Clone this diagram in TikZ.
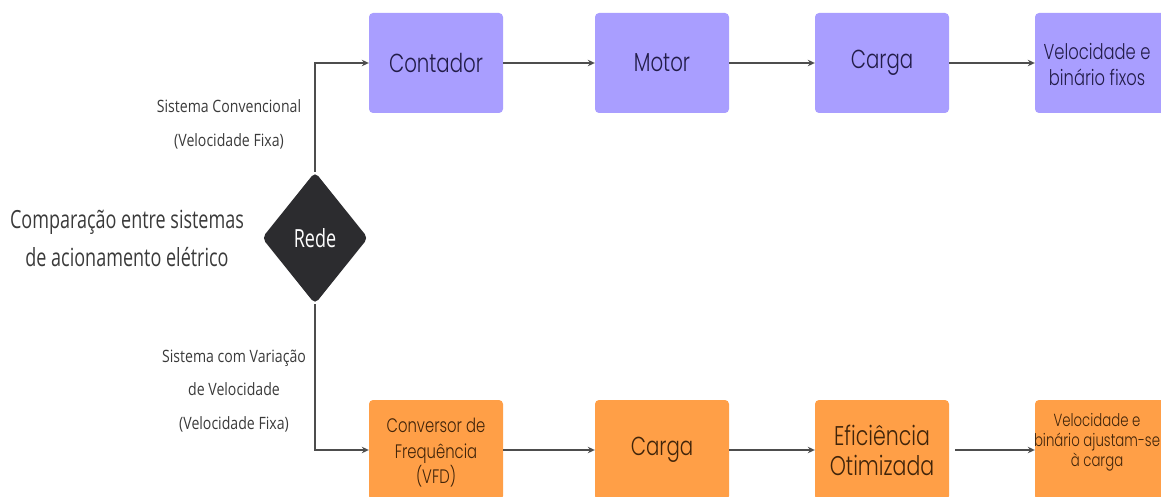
\documentclass[tikz,border=0pt]{standalone}
\usepackage{fontspec}
\setmainfont{Open Sans}[FakeStretch=0.83]
\newfontfamily\titlefont{Open Sans}[FakeStretch=0.72]
\newfontfamily\boxfont{Poppins Light}[FakeStretch=0.76]
\usetikzlibrary{arrows.meta,shapes.geometric}
\definecolor{purplebox}{HTML}{A99EFF}
\definecolor{orangebox}{HTML}{FF9F47}
\definecolor{purpletext}{HTML}{221C48}
\definecolor{orangetext}{HTML}{40240A}
\definecolor{darkdia}{HTML}{2C2C2F}
\definecolor{linegray}{HTML}{4D4D4D}
\definecolor{labeltext}{HTML}{3A3A3A}
\tikzset{
  pbox/.style={draw=none, fill=purplebox, rounded corners=4pt, minimum width=134pt, minimum height=100pt, inner sep=0pt, text=purpletext, align=center},
  obox/.style={draw=none, fill=orangebox, rounded corners=4pt, minimum width=134pt, minimum height=100pt, inner sep=0pt, text=orangetext, align=center},
  conn/.style={draw=linegray, line width=1.3pt, -{Stealth[length=7pt,width=6.5pt]}},
  lbl/.style={text=labeltext, align=center, inner sep=0pt},
  boxtext/.style={align=center, inner sep=0pt},
}
\begin{document}
\begin{tikzpicture}[x=1pt,y=-1pt]
\useasboundingbox (0,0) rectangle (1161,497);
% top row
\node[pbox, font=\boxfont\fontsize{26}{30}\selectfont] (contador) at (436,63) {Contador};
\node[pbox, font=\boxfont\fontsize{26}{30}\selectfont] (motor) at (662,63) {Motor};
\node[pbox, font=\boxfont\fontsize{26}{30}\selectfont] (carga1) at (882,63) {Carga};
\node[pbox, minimum width=130pt] (vel1) at (1100,63) {};
\node[boxtext, text=purpletext, font=\boxfont\fontsize{21.5}{26}\selectfont] (vel1t) at (1097,65) {Velocidade e\\binário fixos};
% bottom row
\node[obox] (conv) at (436,450) {};
\node[boxtext, text=orangetext, font=\boxfont\fontsize{19.5}{25.5}\selectfont] (convt) at (436,453) {Conversor de\\Frequência\\(VFD)};
\node[obox, font=\boxfont\fontsize{26}{30}\selectfont] (carga2) at (662,450) {Carga};
\node[obox, font=\boxfont\fontsize{27}{30}\selectfont] (efic) at (882,450) {Eficiência\\Otimizada};
\node[obox, minimum width=130pt] (vel2) at (1100,450) {};
\node[boxtext, text=orangetext, font=\boxfont\fontsize{17.5}{20}\selectfont] (vel2t) at (1097,442) {Velocidade e\\binário ajustam-se\\à carga};
% diamond
\node[diamond, fill=darkdia, minimum width=106pt, minimum height=132pt, inner sep=0pt, rounded corners=5pt, text=white, font=\titlefont\fontsize{25}{28}\selectfont] (rede) at (315,238) {Rede};
% title
\node[lbl, font=\titlefont\fontsize{25}{38}\selectfont] (title) at (127,238) {Comparação entre sistemas\\de acionamento elétrico};
% branch labels
\node[lbl, font=\fontsize{17}{34}\selectfont] (lbltop) at (229,124) {Sistema Convencional\\(Velocidade Fixa)};
\node[lbl, font=\fontsize{17}{33.5}\selectfont] (lblbot) at (234,391) {Sistema com Variação\\de Velocidade\\(Velocidade Fixa)};
% connectors
\draw[conn] (rede.north) |- (contador.west);
\draw[conn] (rede.south) |- (conv.west);
\draw[conn] (contador) -- (motor);
\draw[conn] (motor) -- (carga1);
\draw[conn] (carga1) -- (vel1);
\draw[conn] (conv) -- (carga2);
\draw[conn] (carga2) -- (efic);
\draw[conn] ([xshift=6pt]efic.east) -- (vel2);
\end{tikzpicture}
\end{document}
